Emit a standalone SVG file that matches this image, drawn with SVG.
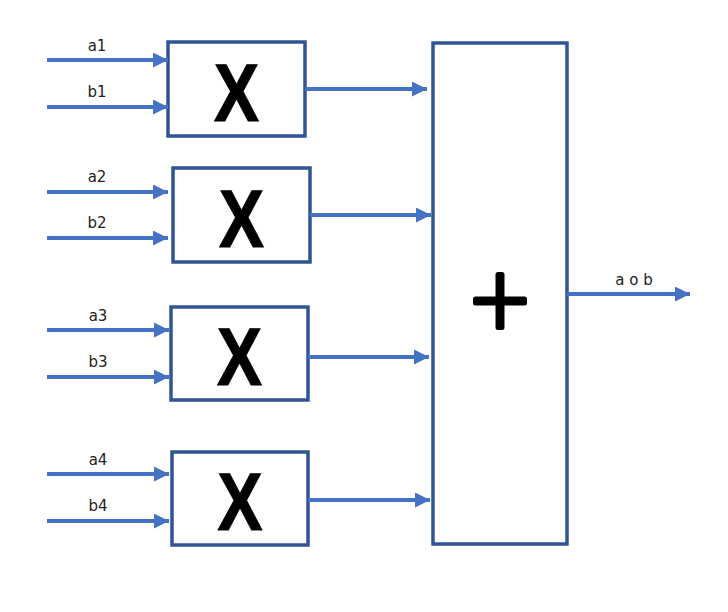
<svg xmlns="http://www.w3.org/2000/svg" width="728" height="612" viewBox="0 0 728 612">
<style>
.box{fill:#fff;stroke:#2F5597;stroke-width:3.5}
.wire{stroke:#4472C4;stroke-width:4;fill:none}
.lbl{font-family:"DejaVu Sans","Liberation Sans",sans-serif;font-size:15px;fill:#222;text-anchor:middle}
.op{font-family:"Liberation Sans",Arial,sans-serif;font-weight:bold;font-size:82px;fill:#000;stroke:#000;stroke-width:1.2;text-anchor:middle}
</style>
<defs>
<marker id="ah" viewBox="0 0 10 10" refX="10" refY="5" markerWidth="3.75" markerHeight="3.75" markerUnits="strokeWidth" orient="auto">
<path d="M0,0 L10,5 L0,10 z" fill="#4472C4"/>
</marker>
</defs>
<rect width="728" height="612" fill="#fff"/>
<g id="mul1"><rect class="box" x="168" y="42" width="137" height="94"/><text class="op" x="236.5" y="120.5" textLength="45" lengthAdjust="spacingAndGlyphs">X</text></g>
<g id="mul2"><rect class="box" x="173" y="168" width="137" height="94"/><text class="op" x="241.5" y="246.5" textLength="45" lengthAdjust="spacingAndGlyphs">X</text></g>
<g id="mul3"><rect class="box" x="171" y="307" width="137" height="93"/><text class="op" x="239.5" y="384.5" textLength="45" lengthAdjust="spacingAndGlyphs">X</text></g>
<g id="mul4"><rect class="box" x="172" y="452" width="136" height="93"/><text class="op" x="240" y="529.5" textLength="45" lengthAdjust="spacingAndGlyphs">X</text></g>
<g id="sum"><rect class="box" x="433" y="43" width="134" height="501"/>
<rect x="473" y="296.5" width="54" height="9" rx="2.5" fill="#000"/>
<rect x="495.5" y="272" width="9" height="58" rx="2.5" fill="#000"/></g>
<g id="connectors">
<line class="wire" x1="47" y1="60" x2="168" y2="60" marker-end="url(#ah)"/>
<line class="wire" x1="47" y1="107" x2="168" y2="107" marker-end="url(#ah)"/>
<line class="wire" x1="47" y1="192" x2="168" y2="192" marker-end="url(#ah)"/>
<line class="wire" x1="47" y1="238" x2="168" y2="238" marker-end="url(#ah)"/>
<line class="wire" x1="47" y1="330" x2="169" y2="330" marker-end="url(#ah)"/>
<line class="wire" x1="47" y1="377" x2="169" y2="377" marker-end="url(#ah)"/>
<line class="wire" x1="47" y1="474" x2="169" y2="474" marker-end="url(#ah)"/>
<line class="wire" x1="47" y1="521" x2="169" y2="521" marker-end="url(#ah)"/>
<line class="wire" x1="305" y1="89" x2="427" y2="89" marker-end="url(#ah)"/>
<line class="wire" x1="310" y1="215" x2="431" y2="215" marker-end="url(#ah)"/>
<line class="wire" x1="308" y1="357" x2="429" y2="357" marker-end="url(#ah)"/>
<line class="wire" x1="308" y1="500" x2="430" y2="500" marker-end="url(#ah)"/>
<line class="wire" x1="567" y1="294" x2="690" y2="294" marker-end="url(#ah)"/>
</g>
<g id="labels">
<text class="lbl" x="97" y="51">a1</text>
<text class="lbl" x="97" y="97">b1</text>
<text class="lbl" x="97" y="182">a2</text>
<text class="lbl" x="97" y="228">b2</text>
<text class="lbl" x="98" y="321">a3</text>
<text class="lbl" x="98" y="367">b3</text>
<text class="lbl" x="98" y="465">a4</text>
<text class="lbl" x="98" y="511">b4</text>
<text class="lbl" x="634" y="285">a o b</text>
</g>
</svg>
